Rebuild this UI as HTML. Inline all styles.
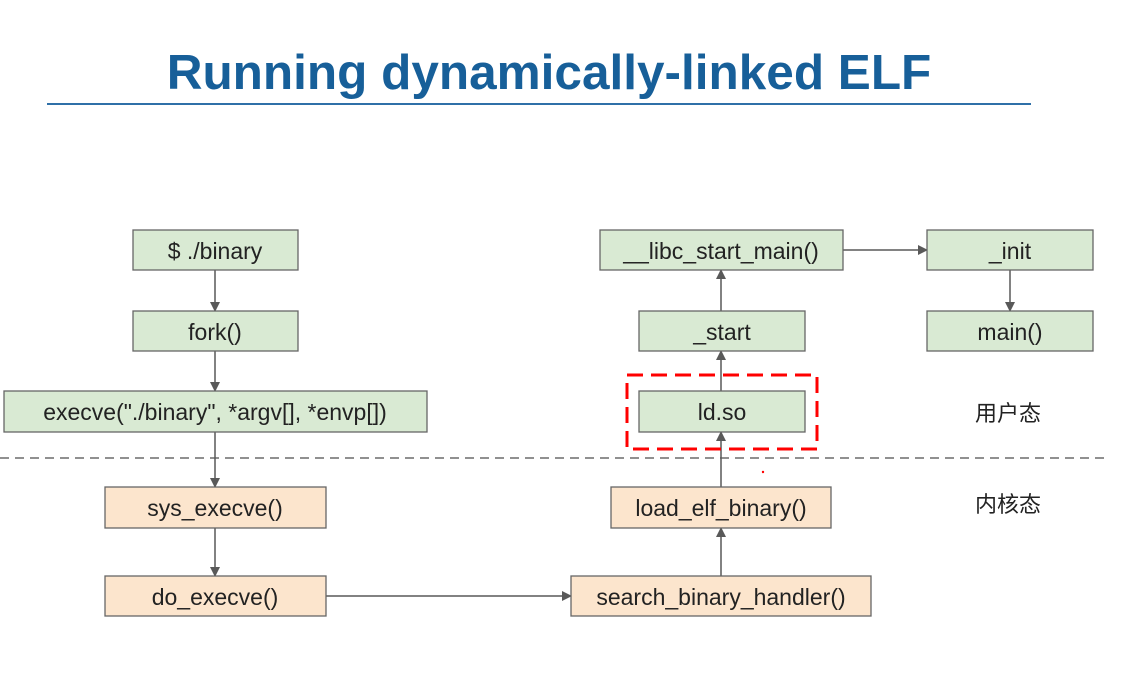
<!DOCTYPE html>
<html><head><meta charset="utf-8"><style>
body{margin:0;background:#fff;}
svg{display:block;}
text{font-family:"Liberation Sans","Noto Sans CJK SC",sans-serif;}
</style></head><body>
<svg width="1124" height="698" viewBox="0 0 1124 698" xmlns="http://www.w3.org/2000/svg">
<defs><marker id="a" markerWidth="10" markerHeight="10" refX="9" refY="5" orient="auto" markerUnits="userSpaceOnUse"><path d="M0,0 L10,5 L0,10 z" fill="#595959"/></marker></defs>
<text x="549" y="89" text-anchor="middle" font-size="49.5" font-weight="bold" fill="#175f99">Running dynamically-linked ELF</text>
<line x1="47" y1="104" x2="1031" y2="104" stroke="#2f70a8" stroke-width="2"/>
<line x1="0" y1="458" x2="1110" y2="458" stroke="#6b6b6b" stroke-width="1.5" stroke-dasharray="9,6"/>
<g stroke="#595959" stroke-width="1.5" fill="none" marker-end="url(#a)">
<line x1="215" y1="270" x2="215" y2="311"/>
<line x1="215" y1="351" x2="215" y2="391"/>
<line x1="215" y1="432" x2="215" y2="487"/>
<line x1="215" y1="528" x2="215" y2="576"/>
<line x1="326" y1="596" x2="571" y2="596"/>
<line x1="721" y1="576" x2="721" y2="528"/>
<line x1="721" y1="487" x2="721" y2="432"/>
<line x1="721" y1="391" x2="721" y2="351"/>
<line x1="721" y1="311" x2="721" y2="270"/>
<line x1="843" y1="250" x2="927" y2="250"/>
<line x1="1010" y1="270" x2="1010" y2="311"/>
</g>
<g stroke="#666" stroke-width="1.3" fill="#d9ead3">
<rect x="133" y="230" width="165" height="40"/>
<rect x="133" y="311" width="165" height="40"/>
<rect x="4" y="391" width="423" height="41"/>
<rect x="639" y="391" width="166" height="41"/>
<rect x="639" y="311" width="166" height="40"/>
<rect x="600" y="230" width="243" height="40"/>
<rect x="927" y="230" width="166" height="40"/>
<rect x="927" y="311" width="166" height="40"/>
</g>
<g stroke="#666" stroke-width="1.3" fill="#fce5cd">
<rect x="105" y="487" width="221" height="41"/>
<rect x="105" y="576" width="221" height="40"/>
<rect x="571" y="576" width="300" height="40"/>
<rect x="611" y="487" width="220" height="41"/>
</g>
<rect x="627" y="375" width="190" height="74" fill="none" stroke="#f00" stroke-width="3" stroke-dasharray="16,8"/>
<circle cx="763" cy="472" r="1.2" fill="#f00"/>
<g font-size="23" fill="#222" text-anchor="middle">
<text x="215" y="259">$ ./binary</text>
<text x="215" y="340">fork()</text>
<text x="215" y="420">execve("./binary", *argv[], *envp[])</text>
<text x="215" y="516">sys_execve()</text>
<text x="215" y="605">do_execve()</text>
<text x="721" y="605">search_binary_handler()</text>
<text x="721" y="516">load_elf_binary()</text>
<text x="722" y="420">ld.so</text>
<text x="722" y="340">_start</text>
<text x="721" y="259">__libc_start_main()</text>
<text x="1010" y="259">_init</text>
<text x="1010" y="340">main()</text>
</g>
<g font-size="22" fill="#222">
<text x="975" y="421">用户态</text>
<text x="975" y="512">内核态</text>
</g>
</svg>
</body></html>
